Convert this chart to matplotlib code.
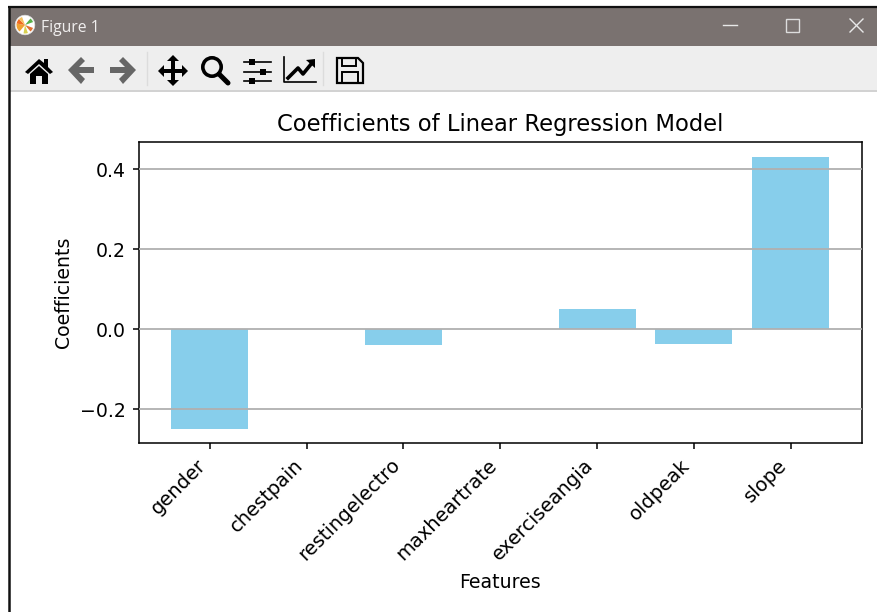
import matplotlib
matplotlib.use("Agg")
import matplotlib.pyplot as plt
from matplotlib.patches import Rectangle, Polygon, Circle, Wedge

features = ["gender", "chestpain", "restingelectro", "maxheartrate",
            "exerciseangia", "oldpeak", "slope"]
coefficients = [-0.249, 0.0, -0.040, 0.0, 0.050, -0.036, 0.432]

W, H = 878, 612
fig = plt.figure(figsize=(W / 100, H / 100), dpi=100, facecolor="white")

# main chart
ax = fig.add_axes([138.5 / W, 1 - 442.6 / H, 723.5 / W, 300.7 / H])
ax.bar(features, coefficients, color="skyblue", width=0.795)
ax.set_ylim(-0.283, 0.469)
ax.set_yticks([-0.2, 0.0, 0.2, 0.4])
ax.grid(axis="y", color="#b0b0b0", lw=1.3)
ax.set_axisbelow(False)
ax.tick_params(width=1.1, length=4.6, labelsize=13.6, pad=4.6)
for s in ax.spines.values():
    s.set_linewidth(1.1)
ax.set_xticks(range(len(features)))
ax.set_xticklabels(features, rotation=45, ha="right", rotation_mode="default", fontsize=14)
ax.set_title("Coefficients of Linear Regression Model", fontsize=16.3, pad=8)
ax.set_xlabel("Features", fontsize=13.6, labelpad=6.5)
ax.set_ylabel("Coefficients", fontsize=13.6, labelpad=5)

# window chrome overlay in pixel coordinates
ch = fig.add_axes([0, 0, 1, 1], facecolor="none", zorder=5)
ch.set_xlim(0, W); ch.set_ylim(H, 0); ch.axis("off")
ch.add_patch(Rectangle((9, 8), W, 38, fc="#7a7270", ec="none"))
ch.add_patch(Rectangle((9, 46), W, 44, fc="#eeeeee", ec="none"))
ch.add_patch(Rectangle((9, 90), W, 1.6, fc="#d2d2d2", ec="none"))
ch.plot([0 + 8, W], [7.2, 7.2], color="#111111", lw=1.6, solid_capstyle="butt")
ch.plot([9, 9], [7, H], color="#111111", lw=1.8, solid_capstyle="butt")

# logo and window title
ch.add_patch(Circle((25, 25), 9.8, fc="white", ec="#dddddd", lw=0.5))
for a, b, c in [(130, 190, "#f0a030"), (190, 225, "#f06a20"), (225, 250, "#f4c060"),
                (310, 340, "#58b048"), (20, 50, "#e07030"), (70, 100, "#d8d050")]:
    ch.add_patch(Wedge((25, 25), 8.5, a, b, fc=c, ec="none"))
ch.text(41, 28, "Figure 1", color="#f0eeee", fontsize=11.3, family="Open Sans", va="center")

# window buttons
ch.plot([723, 737], [25, 25], color="#e8e8e8", lw=1)
ch.add_patch(Rectangle((786, 19), 13, 13, fc="none", ec="#dddddd", lw=1))
ch.plot([850, 863], [19, 32], color="#e8e8e8", lw=1)
ch.plot([850, 863], [32, 19], color="#e8e8e8", lw=1)

# toolbar icons
ch.plot([147, 147], [52, 85], color="#dcdcdc", lw=1)
ch.plot([323, 323], [52, 85], color="#dcdcdc", lw=1)
ch.add_patch(Polygon([(25, 72), (39, 59), (44, 63), (44, 59), (48, 59), (48, 67), (53, 72),
                      (50, 74), (39, 64), (28, 74)], fc="black", ec="none"))
ch.add_patch(Polygon([(30, 74), (39, 66), (48, 74), (48, 84), (42, 84), (42, 76), (36, 76),
                      (36, 84), (30, 84)], fc="black", ec="none"))
ch.add_patch(Polygon([(68, 70), (81, 57), (85, 61), (79, 67), (94, 67), (94, 73), (79, 73),
                      (85, 79), (81, 84)], fc="#666666", ec="none"))
ch.add_patch(Polygon([(136, 70), (123, 57), (119, 61), (125, 67), (110, 67), (110, 73),
                      (125, 73), (119, 79), (123, 84)], fc="#666666", ec="none"))
ch.add_patch(Polygon([(173, 55), (179, 61), (175, 61), (175, 69), (182, 69), (182, 65), (188, 71),
                      (182, 77), (182, 73), (175, 73), (175, 80), (179, 80), (173, 86), (167, 80),
                      (171, 80), (171, 73), (164, 73), (164, 77), (158, 71), (164, 65), (164, 69),
                      (171, 69), (171, 61), (167, 61)], fc="black", ec="none"))
ch.add_patch(Circle((212, 67), 9.2, fc="none", ec="black", lw=2.6))
ch.plot([219, 228], [74, 83], color="black", lw=3.6, solid_capstyle="round")
for y, x in [(62, 252), (72, 263), (81, 252)]:
    ch.plot([244, 271], [y, y], color="black", lw=1.2)
    ch.add_patch(Rectangle((x - 3, y - 3), 6, 6, fc="black", ec="none"))
ch.plot([284, 284, 316], [57, 82, 82], color="black", lw=1.2)
ch.plot([288, 298, 303, 312], [78, 68, 74, 63], color="black", lw=2.6)
ch.add_patch(Polygon([(306, 60), (315, 59), (315, 68)], fc="black", ec="none"))
ch.add_patch(Polygon([(337, 58), (358, 58), (363, 63), (363, 83), (337, 83)],
                     fc="none", ec="black", lw=1.6))
ch.add_patch(Rectangle((342, 58), 14, 8, fc="none", ec="black", lw=1.4))
ch.add_patch(Rectangle((342, 72), 16, 11, fc="none", ec="black", lw=1.4))

fig.savefig("out.png", dpi=100)
